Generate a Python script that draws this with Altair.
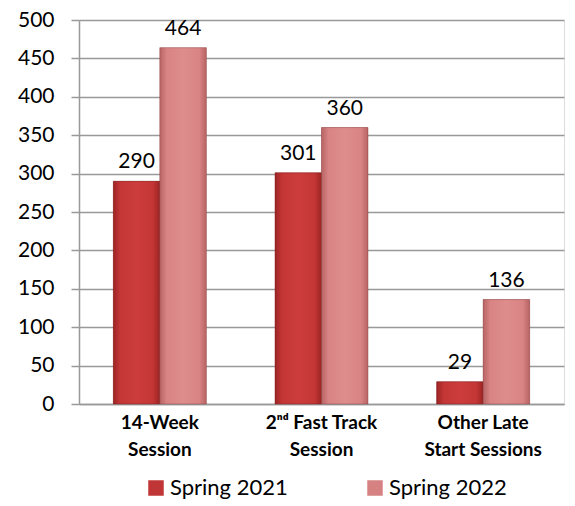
import altair as alt
import pandas as pd

categories = ["14-Week|Session", "2ⁿᵈ Fast Track|Session", "Other Late|Start Sessions"]
series = ["Spring 2021", "Spring 2022"]
spring_2021 = [290, 301, 29]
spring_2022 = [464, 360, 136]
colors = ["#c03535", "#d68282"]

rows = []
for c, a, b in zip(categories, spring_2021, spring_2022):
    rows.append({"cat": c, "series": series[0], "value": a})
    rows.append({"cat": c, "series": series[1], "value": b})
df = pd.DataFrame(rows)

FONT = "Lato"

x = alt.X("cat:N", sort=categories, title=None,
          scale=alt.Scale(paddingInner=0.425, paddingOuter=0.2125),
          axis=alt.Axis(labelExpr="split(datum.label, '|')", labelAngle=0,
                        labelFont=FONT, labelFontSize=19, labelFontWeight="bold",
                        labelColor="black", labelLineHeight=27, labelPadding=9,
                        domainColor="#999999", domainWidth=1.5, ticks=False,
                        labelBaseline="top"))
xo = alt.XOffset("series:N", sort=series, scale=alt.Scale(paddingInner=0, paddingOuter=0))
y = alt.Y("value:Q", title=None,
          scale=alt.Scale(domain=[0, 500], nice=False),
          axis=alt.Axis(values=list(range(0, 501, 50)), tickCount=20,
                        labelFont=FONT, labelFontSize=21,
                        labelColor="black", tickSize=8, tickColor="#999999", tickWidth=1.5,
                        labelPadding=17, domainColor="#999999", domainWidth=1.5,
                        gridColor="#999999", gridWidth=1.5,
                        labelOverlap=False, labelFlush=False))

bars = alt.Chart(df).mark_bar().encode(
    x=x, xOffset=xo, y=y,
    color=alt.Color("series:N", sort=series,
                    scale=alt.Scale(domain=series, range=colors),
                    legend=alt.Legend(title=None, orient="none", direction="horizontal",
                                      legendX=66, legendY=457, symbolType="square",
                                      symbolSize=240, symbolStrokeWidth=0,
                                      labelFont=FONT, labelFontSize=22, labelColor="black",
                                      columnPadding=76, labelOffset=3, labelLimit=200)),
)

grad_2021 = alt.Gradient(gradient="linear", x1=0, x2=1, y1=0, y2=0, stops=[
    alt.GradientStop(color="#9c2424", offset=0),
    alt.GradientStop(color="#c43636", offset=0.15),
    alt.GradientStop(color="#cc3c3c", offset=0.5),
    alt.GradientStop(color="#c43636", offset=0.85),
    alt.GradientStop(color="#9c2424", offset=1),
])
grad_2022 = alt.Gradient(gradient="linear", x1=0, x2=1, y1=0, y2=0, stops=[
    alt.GradientStop(color="#b96464", offset=0),
    alt.GradientStop(color="#d98484", offset=0.15),
    alt.GradientStop(color="#de8c8c", offset=0.5),
    alt.GradientStop(color="#d98484", offset=0.85),
    alt.GradientStop(color="#b96464", offset=1),
])

shade_a = alt.Chart(df).transform_filter(alt.datum.series == series[0]).mark_bar(
    color=grad_2021, stroke="#7a1c1c", strokeWidth=0.8, strokeOpacity=0.6).encode(
    x=x, xOffset=xo, y=y)
shade_b = alt.Chart(df).transform_filter(alt.datum.series == series[1]).mark_bar(
    color=grad_2022, stroke="#8a4444", strokeWidth=0.8, strokeOpacity=0.6).encode(
    x=x, xOffset=xo, y=y)

labels = alt.Chart(df).mark_text(baseline="bottom", dy=-9, font=FONT, fontSize=21,
                                 color="black").encode(
    x=x, xOffset=xo, y=y,
    text="value:Q",
)

chart = alt.layer(bars, shade_a, shade_b, labels).properties(
    width=485, height=384,
    autosize=alt.AutoSizeParams(type="none"),
    padding={"left": 71, "top": 12, "right": 3, "bottom": 98},
).configure_view(strokeWidth=0).configure(background="white")

chart.save("out.html", embed_options={"renderer": "svg", "actions": False})
